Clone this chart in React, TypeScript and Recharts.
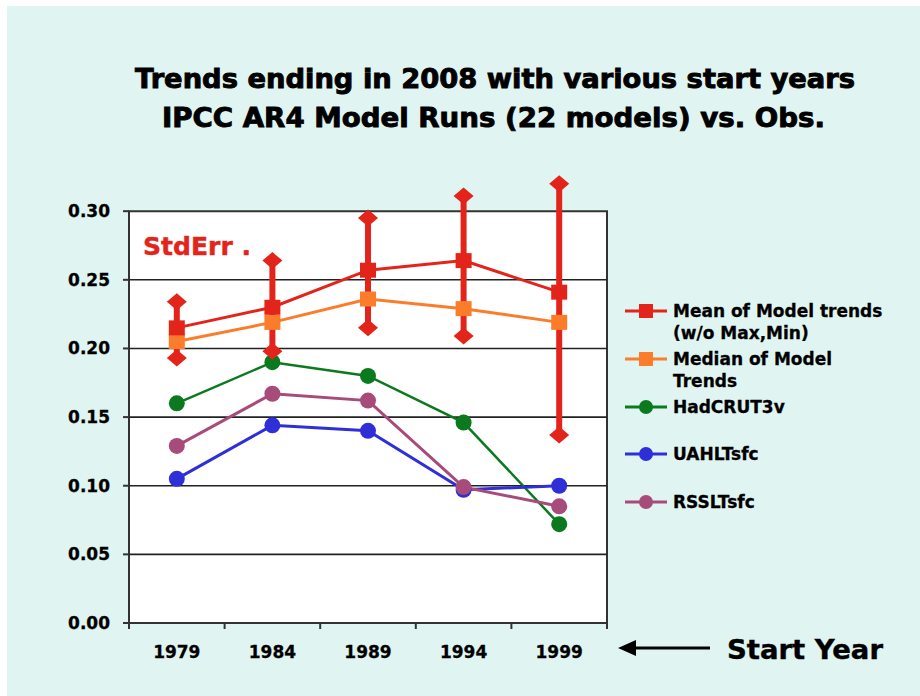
import React from 'react';
import { ComposedChart, Line, XAxis, YAxis, ReferenceArea, ReferenceLine, ErrorBar, Legend } from 'recharts';

// ---- data ----
const startYears = ['1979', '1984', '1989', '1994', '1999'];
const meanTrend = [0.215, 0.23, 0.257, 0.264, 0.241];
const medianTrend = [0.205, 0.219, 0.236, 0.229, 0.219];
const errHigh = [0.234, 0.264, 0.295, 0.311, 0.32];
const errLow = [0.193, 0.198, 0.215, 0.209, 0.137];
const hadcrut = [0.16, 0.19, 0.18, 0.146, 0.072];
const uah = [0.105, 0.144, 0.14, 0.097, 0.1];
const rss = [0.129, 0.167, 0.162, 0.099, 0.085];
const yTicks = [0, 0.05, 0.1, 0.15, 0.2, 0.25, 0.3];
const titleLines = ['Trends ending in 2008 with various start years', 'IPCC AR4 Model Runs (22 models) vs. Obs.'];
const legendLabels = [
  ['Mean of Model trends', '(w/o Max,Min)'],
  ['Median of Model', 'Trends'],
  ['HadCRUT3v'],
  ['UAHLTsfc'],
  ['RSSLTsfc'],
];

// ---- styles ----
const RED = '#E3241B';
const ORANGE = '#FB7D2B';
const GREEN = '#0B7A1F';
const BLUE = '#2F2FD8';
const PURPLE = '#A74B7B';
const BG = '#E0F5F2';
const FONT = '"DejaVu Sans", Verdana, sans-serif';

const data = startYears.map((year, i) => ({
  i,
  year,
  mean: meanTrend[i],
  median: medianTrend[i],
  hi: errHigh[i],
  lo: errLow[i],
  err: [meanTrend[i] - errLow[i], errHigh[i] - meanTrend[i]],
  hadcrut: hadcrut[i],
  uah: uah[i],
  rss: rss[i],
}));

const xTicks: number[] = [];
startYears.forEach((_, i) => {
  xTicks.push(i - 0.5);
  xTicks.push(i);
});
xTicks.push(startYears.length - 0.5);

const XTick = (props: any) => {
  const { x, y, payload } = props;
  const v = payload.value;
  if (Number.isInteger(v)) {
    return (
      <text x={x} y={y + 35} textAnchor="middle" fontFamily={FONT} fontWeight="bold" fontSize={17} fill="#000" stroke="#000" strokeWidth={0.3}>
        {startYears[v]}
      </text>
    );
  }
  return <line x1={x} x2={x} y1={y} y2={y + 6} stroke="#333" strokeWidth={2} />;
};

const squareDot = (color: string) => (props: any) => {
  const { cx, cy, index } = props;
  if (cx == null || cy == null) return <g key={`s-${index}`} />;
  return <rect key={`s-${index}`} x={cx - 8} y={cy - 7.5} width={16} height={15} fill={color} />;
};

const diamondDot = (props: any) => {
  const { cx, cy, index } = props;
  if (cx == null || cy == null) return <g key={`d-${index}`} />;
  return (
    <polygon
      key={`d-${index}`}
      points={`${cx},${cy - 8.5} ${cx + 10},${cy} ${cx},${cy + 8.5} ${cx - 10},${cy}`}
      fill={RED}
    />
  );
};

const legendItems = [
  { color: RED, shape: 'square', rowY: 15 },
  { color: ORANGE, shape: 'square', rowY: 63 },
  { color: GREEN, shape: 'circle', rowY: 111 },
  { color: BLUE, shape: 'circle', rowY: 158 },
  { color: PURPLE, shape: 'circle', rowY: 206 },
];

const LegendContent = () => (
  <svg width={290} height={225} style={{ display: 'block' }}>
    {legendItems.map((it, k) => (
      <g key={k}>
        <line x1={5} x2={47} y1={it.rowY} y2={it.rowY} stroke={it.color} strokeWidth={3} />
        {it.shape === 'square' ? (
          <rect x={19} y={it.rowY - 7} width={14} height={14} fill={it.color} />
        ) : (
          <circle cx={26} cy={it.rowY} r={7} fill={it.color} />
        )}
        {legendLabels[k].map((t, j) => (
          <text
            key={j}
            x={53}
            y={it.rowY + 6 + j * 22}
            fontFamily={FONT}
            fontWeight="bold"
            fontSize={17}
            fill="#000"
            stroke="#000"
            strokeWidth={0.3}
          >
            {t}
          </text>
        ))}
      </g>
    ))}
  </svg>
);

export default function App() {
  return (
    <div style={{ position: 'absolute', left: 0, top: 0, width: 920, height: 696, background: '#fff', overflow: 'hidden' }}>
      <div style={{ position: 'absolute', left: 7, top: 6, right: 0, bottom: 0, background: BG }} />
      <div style={{ position: 'absolute', left: 0, top: 0 }}>
        <ComposedChart width={920} height={696} data={data} margin={{ top: 170, right: 313, bottom: 0, left: 0 }}>
          <XAxis
            dataKey="i"
            type="number"
            domain={[-0.5, startYears.length - 0.5]}
            ticks={xTicks}
            interval={0}
            tickLine={false}
            axisLine={false}
            tickSize={0}
            tickMargin={0}
            height={73}
            tick={<XTick />}
          />
          <YAxis
            type="number"
            domain={[0, 0.33]}
            ticks={yTicks}
            interval={0}
            axisLine={false}
            tickLine={{ stroke: '#333', strokeWidth: 2 }}
            tickSize={6}
            tickMargin={13}
            width={129}
            tickFormatter={(v: number) => v.toFixed(2)}
            tick={{ fontFamily: FONT, fontWeight: 'bold', fontSize: 17, fill: '#000', stroke: '#000', strokeWidth: 0.3 }}
          />
          <ReferenceArea y1={0} y2={0.3} fill="#ffffff" fillOpacity={1} stroke="#333" strokeWidth={2} />
          {yTicks.slice(1, -1).map((v) => (
            <ReferenceLine key={v} y={v} stroke="#222" strokeWidth={1.6} />
          ))}
          <Line dataKey="hadcrut" name="HadCRUT3v" stroke={GREEN} strokeWidth={2.5} dot={{ r: 8, fill: GREEN, stroke: 'none' }} activeDot={false} isAnimationActive={false} />
          <Line dataKey="uah" name="UAHLTsfc" stroke={BLUE} strokeWidth={3} dot={{ r: 8, fill: BLUE, stroke: 'none' }} activeDot={false} isAnimationActive={false} />
          <Line dataKey="rss" name="RSSLTsfc" stroke={PURPLE} strokeWidth={3} dot={{ r: 8, fill: PURPLE, stroke: 'none' }} activeDot={false} isAnimationActive={false} />
          <Line dataKey="median" name="Median of Model Trends" stroke={ORANGE} strokeWidth={3} dot={squareDot(ORANGE)} activeDot={false} isAnimationActive={false} />
          <Line dataKey="mean" name="Mean of Model trends (w/o Max,Min)" stroke={RED} strokeWidth={3} dot={squareDot(RED)} activeDot={false} isAnimationActive={false}>
            <ErrorBar dataKey="err" direction="y" width={0} stroke={RED} strokeWidth={6} isAnimationActive={false} />
          </Line>
          <Line dataKey="hi" name="Max" stroke="none" legendType="none" dot={diamondDot} activeDot={false} isAnimationActive={false} />
          <Line dataKey="lo" name="Min" stroke="none" legendType="none" dot={diamondDot} activeDot={false} isAnimationActive={false} />
          <Legend
            layout="vertical"
            align="center"
            verticalAlign="middle"
            wrapperStyle={{ left: 620, top: 296, width: 290, height: 225 }}
            content={() => <LegendContent />}
          />
        </ComposedChart>
      </div>
      <svg width={920} height={696} style={{ position: 'absolute', left: 0, top: 0, pointerEvents: 'none' }}>
        <text x={495} y={88} textAnchor="middle" fontFamily={FONT} fontWeight="bold" fontSize={26} fill="#000" stroke="#000" strokeWidth={0.9} textLength={720} lengthAdjust="spacingAndGlyphs">
          {titleLines[0]}
        </text>
        <text x={493.5} y={127} textAnchor="middle" fontFamily={FONT} fontWeight="bold" fontSize={26} fill="#000" stroke="#000" strokeWidth={0.9} textLength={663} lengthAdjust="spacingAndGlyphs">
          {titleLines[1]}
        </text>
        <text x={143} y={255} fontFamily={FONT} fontWeight="bold" fontSize={25} fill={RED} stroke={RED} strokeWidth={0.4} textLength={108} lengthAdjust="spacingAndGlyphs">
          StdErr .
        </text>
        <line x1={632} x2={710} y1={648} y2={648} stroke="#000" strokeWidth={3} />
        <polygon points="618,648 636,640 636,656" fill="#000" />
        <text x={727} y={659} fontFamily={FONT} fontWeight="bold" fontSize={27} fill="#000" stroke="#000" strokeWidth={0.4} textLength={156} lengthAdjust="spacingAndGlyphs">
          Start Year
        </text>
      </svg>
    </div>
  );
}
